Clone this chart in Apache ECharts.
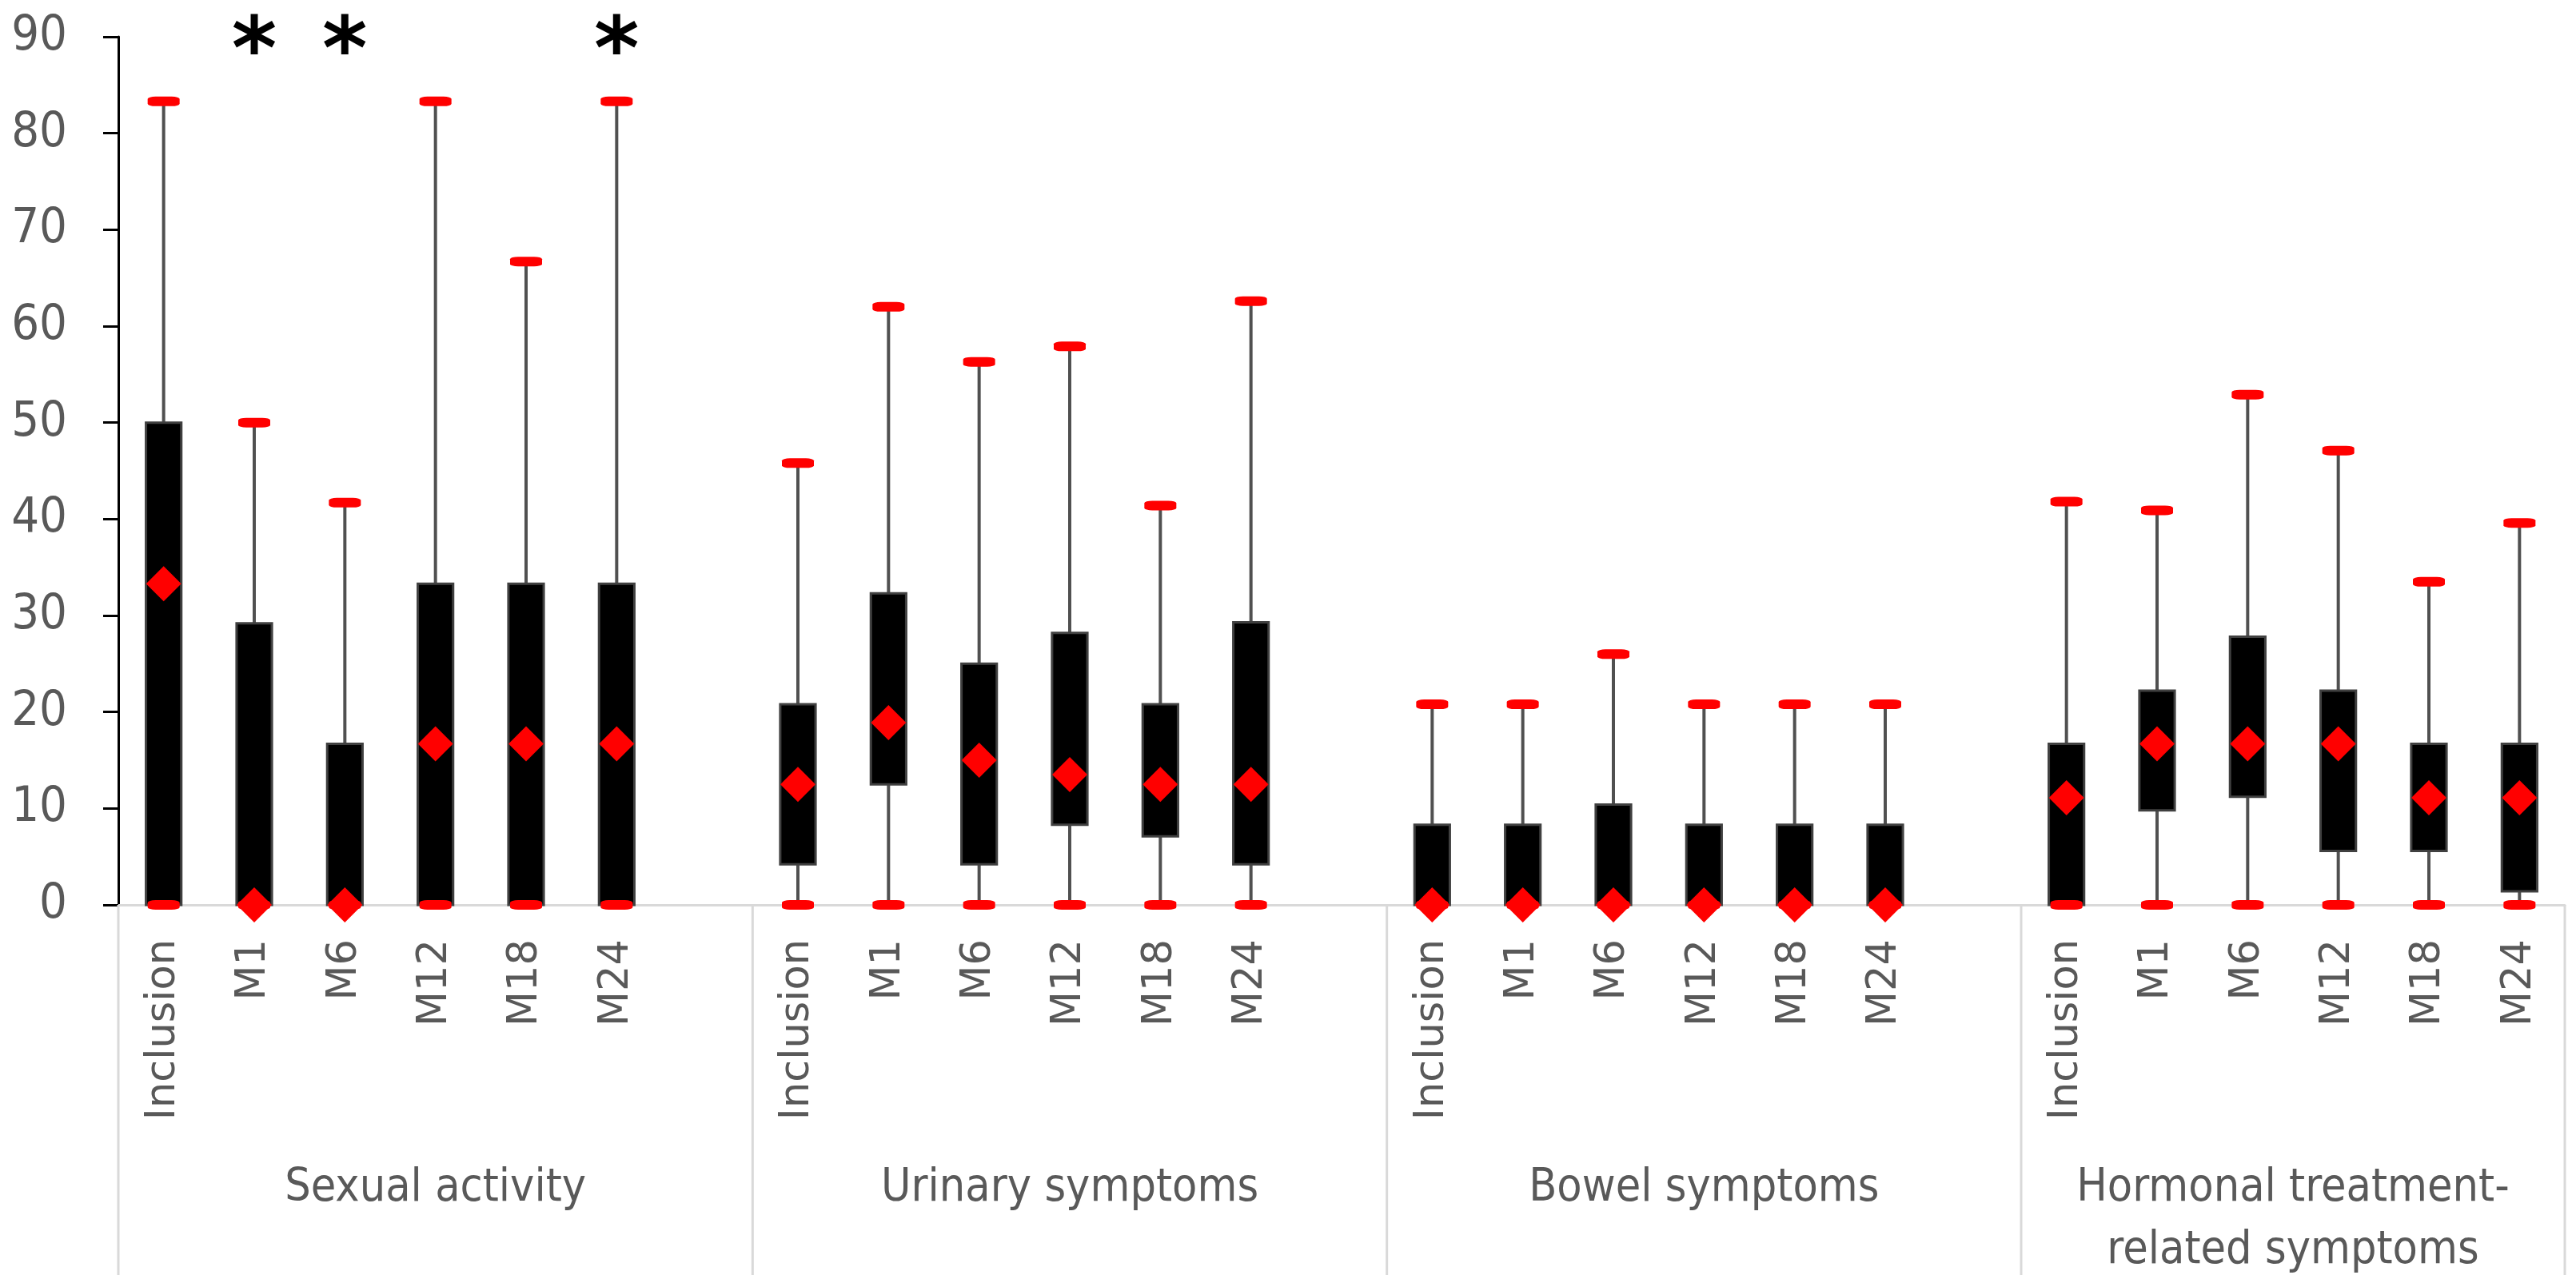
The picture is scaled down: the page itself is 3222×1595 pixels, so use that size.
<!DOCTYPE html>
<html>
<head>
<meta charset="utf-8">
<script src="https://cdn.jsdelivr.net/npm/echarts@6/dist/echarts.min.js"></script>
<style>
  html, body { margin: 0; padding: 0; background: #fff; }
  #chart { width: 3222px; height: 1595px; }
</style>
</head>
<body>
<div id="chart"></div>
<script>
// ---------- data ----------
const groups = ['Sexual activity', 'Urinary symptoms', 'Bowel symptoms', 'Hormonal treatment-\nrelated symptoms'];
const timepoints = ['Inclusion', 'M1', 'M6', 'M12', 'M18', 'M24'];

// 24 values each: 4 groups x 6 time points
const whiskerLow = [
  0, 0, 0, 0, 0, 0,
  0, 0, 0, 0, 0, 0,
  0, 0, 0, 0, 0, 0,
  0, 0, 0, 0, 0, 0
];
const boxLow = [
  0, 0, 0, 0, 0, 0,
  4.2, 12.5, 4.2, 8.3, 7.1, 4.2,
  0, 0, 0, 0, 0, 0,
  0, 9.8, 11.2, 5.6, 5.6, 1.4
];
const median = [
  33.3, 0, 0, 16.7, 16.7, 16.7,
  12.5, 18.9, 15.0, 13.5, 12.5, 12.5,
  0, 0, 0, 0, 0, 0,
  11.1, 16.7, 16.7, 16.7, 11.1, 11.1
];
const boxHigh = [
  50, 29.2, 16.7, 33.3, 33.3, 33.3,
  20.8, 32.3, 25.0, 28.2, 20.8, 29.3,
  8.3, 8.3, 10.4, 8.3, 8.3, 8.3,
  16.7, 22.2, 27.8, 22.2, 16.7, 16.7
];
const whiskerHigh = [
  83.3, 50, 41.7, 83.3, 66.7, 83.3,
  45.8, 62.0, 56.3, 57.9, 41.4, 62.6,
  20.8, 20.8, 26.0, 20.8, 20.8, 20.8,
  41.8, 40.9, 52.9, 47.1, 33.5, 39.6
];
const significance = [
  '', '*', '*', '', '', '*',
  '', '', '', '', '', '',
  '', '', '', '', '', '',
  '', '', '', '', '', ''
];
const yTicks = { min: 0, max: 90, interval: 10 };

// ---------- layout of category slots (one empty slot between groups) ----------
const categories = [];
const slotOf = [];       // data index -> slot
const groupRanges = [];  // [firstSlot, lastSlot, groupIndex]
groups.forEach((g, gi) => {
  const start = categories.length;
  timepoints.forEach((t) => {
    slotOf.push(categories.length);
    categories.push(t);
  });
  if (gi < groups.length - 1) categories.push('');
  groupRanges.push([start, categories.length - 1, gi]);
});

const boxData = slotOf.map((s, i) => [s, whiskerLow[i], boxLow[i], median[i], boxHigh[i], whiskerHigh[i]]);
const capHigh = slotOf.map((s, i) => [s, whiskerHigh[i]]);
const capLow = slotOf.map((s, i) => [s, whiskerLow[i]]);
const medData = slotOf.map((s, i) => [s, median[i]]);
const sigData = [];
slotOf.forEach((s, i) => { if (significance[i]) sigData.push({ name: significance[i], value: [s, yTicks.max] }); });

const NARROW = "'Liberation Sans Narrow', 'DejaVu Sans Condensed', 'Open Sans', sans-serif";
const GREY_TEXT = '#595959';
const RED = '#ff0000';

const chart = echarts.init(document.getElementById('chart'), null, { renderer: 'canvas' });
chart.setOption({
  animation: false,
  backgroundColor: '#ffffff',
  grid: { left: 148, right: 14, top: 46, bottom: 463, containLabel: false },
  xAxis: {
    type: 'category',
    data: categories,
    boundaryGap: true,
    axisLine: { show: true, lineStyle: { color: '#d9d9d9', width: 3 } },
    axisTick: { show: false },
    axisLabel: {
      interval: 0, rotate: 90, margin: 43,
      fontFamily: 'DejaVu Sans', fontSize: 51, color: GREY_TEXT
    },
    splitLine: { show: false }
  },
  yAxis: {
    type: 'value',
    min: yTicks.min, max: yTicks.max, interval: yTicks.interval,
    axisLine: { show: true, lineStyle: { color: '#000000', width: 3 } },
    axisTick: { show: true, inside: false, length: 19, lineStyle: { color: '#000000', width: 3 } },
    axisLabel: { margin: 64, fontFamily: NARROW, fontSize: 61, color: GREY_TEXT, padding: [12, 0, 0, 0] },
    splitLine: { show: false }
  },
  series: [
    {
      type: 'custom',
      name: 'groups',
      clip: false,
      z: 1,
      silent: true,
      data: groupRanges,
      encode: { x: 0, y: -1 },
      renderItem: function (params, api) {
        const first = api.value(0), last = api.value(1), gi = api.value(2);
        const band = api.size([1, 0])[0];
        const p0 = api.coord([first, 0]);
        const p1 = api.coord([last, 0]);
        const left = p0[0] - band / 2;
        const right = p1[0] + band / 2;
        const y0 = p0[1];
        const children = [
          { type: 'line', shape: { x1: left, y1: y0, x2: left, y2: y0 + 470 },
            style: { stroke: '#d9d9d9', lineWidth: 3 } },
          { type: 'text', style: {
              text: groups[gi], x: (left + right) / 2, y: y0 + 316,
              align: 'center', verticalAlign: 'top',
              fontFamily: NARROW, fontSize: 57, lineHeight: 78, fill: GREY_TEXT } }
        ];
        if (params.dataIndex === groupRanges.length - 1) {
          children.push({ type: 'line', shape: { x1: right, y1: y0, x2: right, y2: y0 + 470 },
            style: { stroke: '#d9d9d9', lineWidth: 3 } });
        }
        return { type: 'group', children: children };
      }
    },
    {
      type: 'custom',
      name: 'boxes',
      z: 2,
      clip: false,
      data: boxData,
      encode: { x: 0, y: [1, 2, 3, 4, 5] },
      renderItem: function (params, api) {
        const x = api.value(0);
        const pMin = api.coord([x, api.value(1)]);
        const pQ1 = api.coord([x, api.value(2)]);
        const pQ3 = api.coord([x, api.value(4)]);
        const pMax = api.coord([x, api.value(5)]);
        const bw = api.size([1, 0])[0] * 0.39;
        return { type: 'group', children: [
          { type: 'line', shape: { x1: pMin[0], y1: pMin[1], x2: pMax[0], y2: pMax[1] },
            style: { stroke: '#505050', lineWidth: 4 } },
          { type: 'rect', shape: { x: pQ1[0] - bw / 2, y: pQ3[1], width: bw, height: pQ1[1] - pQ3[1] },
            style: { fill: '#000000', stroke: '#404040', lineWidth: 3 } }
        ] };
      }
    },
    {
      type: 'scatter', name: 'max', z: 3, clip: false,
      symbol: 'roundRect', symbolSize: [40, 12],
      itemStyle: { color: RED, opacity: 1 },
      data: capHigh
    },
    {
      type: 'scatter', name: 'min', z: 3, clip: false,
      symbol: 'roundRect', symbolSize: [40, 12],
      itemStyle: { color: RED, opacity: 1 },
      data: capLow
    },
    {
      type: 'scatter', name: 'median', z: 4, clip: false,
      symbol: 'diamond', symbolSize: [44, 44],
      itemStyle: { color: RED, opacity: 1 },
      data: medData
    },
    {
      type: 'scatter', name: 'significance', z: 5, clip: false,
      symbolSize: 1, itemStyle: { color: 'rgba(0,0,0,0)', opacity: 1 },
      label: { show: true, position: 'inside', formatter: '{b}', opacity: 1,
        fontFamily: 'DejaVu Sans', fontWeight: 'bold', fontSize: 108, color: '#000000', offset: [0, 24] },
      data: sigData
    }
  ]
});
</script>
</body>
</html>
